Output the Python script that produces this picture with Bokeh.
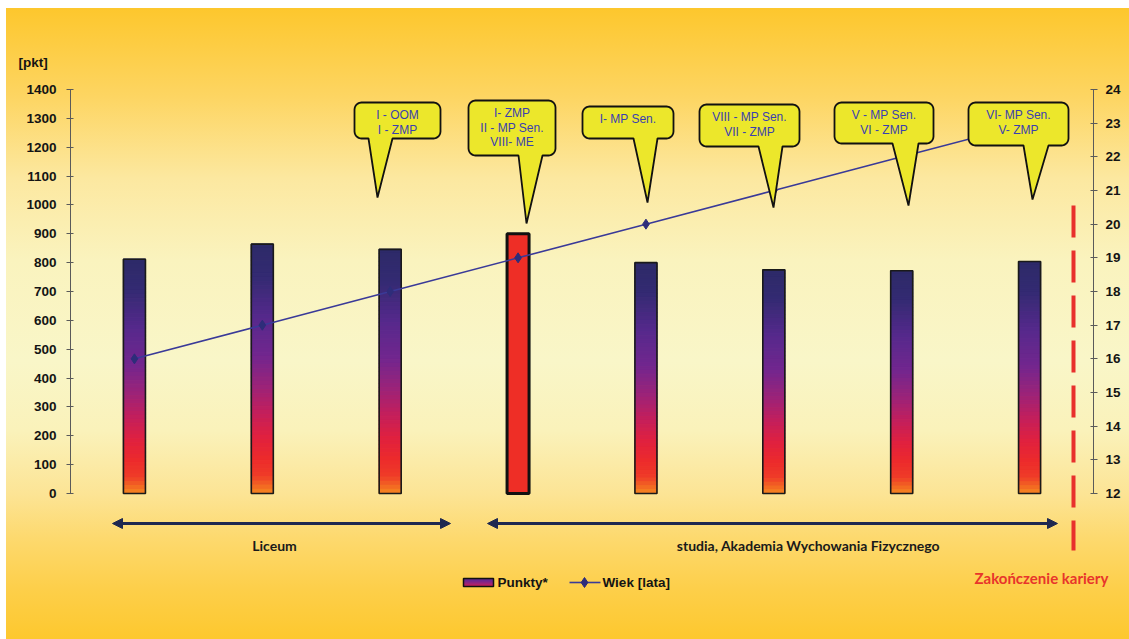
import numpy as np
from bokeh.plotting import figure
from bokeh.models import Range1d, LinearAxis, FixedTicker, Label, Arrow, NormalHead
from bokeh.embed import file_html
from bokeh.resources import INLINE

# ---- data -------------------------------------------------------------
seasons = list(range(8))                      # consecutive seasons
points = [812, 864, 846, 900, 800, 775, 772, 804]   # Punkty*
age = [16, 17, 18, 19, 20, 21, 22, 23]              # Wiek [lata]
best_season = 3
pkt_ticks = list(range(0, 1401, 100))
age_ticks = list(range(12, 25))

callout_season = [2, 3, 4, 5, 6, 7]
callout_lines = [
    ["I - OOM", "I - ZMP"],
    ["I- ZMP", "II - MP Sen.", "VIII- ME"],
    ["I- MP Sen."],
    ["VIII - MP Sen.", "VII - ZMP"],
    ["V - MP Sen.", "VI - ZMP"],
    ["VI- MP Sen.", "V- ZMP"],
]

# ---- page geometry (pixels) ------------------------------------------
# the plotting frame covers the whole canvas; both value axes are pinned
# to the outer edges of the season range
W, H = 1129, 639
AX_L, AX_R = 70, 1093              # pixel columns of the two value axes
ZERO_PY, TOP_PY = 493, 89          # pixel rows of 0 and 1400 pkt
PX_CAT = (AX_R - AX_L) / len(seasons)
PX_PKT = (ZERO_PY - TOP_PY) / 1400.0
PX_AGE = (ZERO_PY - TOP_PY) / 12.0


def at_x(px):
    return (px - AX_L) / PX_CAT


def at_y(py):
    return (ZERO_PY - py) / PX_PKT


age_lo = 12 - (H - ZERO_PY) / PX_AGE
age_hi = 12 + ZERO_PY / PX_AGE

bg = ("linear-gradient(to bottom, #FDC72D 0%, #FDD562 14%, #FCE8A0 27%, "
      "#FAF3BE 40%, #F9F6C8 56%, #FAF2BA 67%, #FCE495 77%, #FDD96E 84%, "
      "#FDCF4A 92%, #FDC82E 100%) 6px 8px / calc(100% - 6px) calc(100% - 8px) no-repeat, #ffffff")

p = figure(width=W, height=H, output_backend="svg", toolbar_location=None,
           x_axis_type=None, y_axis_type=None, title=None,
           x_range=Range1d(at_x(0), at_x(W)), y_range=Range1d(at_y(H), at_y(0)),
           min_border=0)
p.extra_y_ranges = {"age": Range1d(age_lo, age_hi)}
p.background_fill_color = None
p.border_fill_color = None
p.outline_line_color = None
p.grid.visible = False
p.styles = {"background": bg}

for side, rng, ticks, bounds, loc in (("left", "default", pkt_ticks, (0, 1400), 0),
                                      ("right", "age", age_ticks, (12, 24), len(seasons))):
    ax = LinearAxis(y_range_name=rng, ticker=FixedTicker(ticks=ticks), bounds=bounds,
                    fixed_location=loc)
    ax.axis_line_color = "#5a5a5a"
    ax.major_tick_line_color = "#5a5a5a"
    ax.minor_tick_line_color = None
    ax.major_tick_in = 3
    ax.major_tick_out = 4
    ax.major_label_standoff = 10 if side == "left" else 8
    ax.major_label_text_font = "Liberation Sans"
    ax.major_label_text_font_style = "bold"
    ax.major_label_text_font_size = "13.5px"
    ax.major_label_text_color = "#141414"
    p.add_layout(ax, side)

# ---- gradient bars ----------------------------------------------------
stops = [(0.0, "#2D2A68"), (0.13, "#332A72"), (0.3, "#56298C"), (0.45, "#72268E"),
         (0.57, "#9A2379"), (0.67, "#C01F5E"), (0.77, "#DF2040"), (0.86, "#EC2A2C"),
         (0.93, "#EF3B28"), (1.0, "#F5861F")]
stop_t = np.array([s[0] for s in stops])
stop_rgb = np.array([[int(c[i:i + 2], 16) for i in (1, 3, 5)] for _, c in stops], float)


def grad(t):
    return "#%02x%02x%02x" % tuple(int(round(np.interp(t, stop_t, stop_rgb[:, k]))) for k in range(3))


bar_w = 22 / PX_CAT
N = 60
for i, v in zip(seasons, points):
    if i == best_season:
        continue
    edges = [v * (1 - k / N) for k in range(N + 1)]
    cols = [grad((k + 0.5) / N) for k in range(N)]
    p.quad(left=[i + 0.5 - bar_w / 2] * N, right=[i + 0.5 + bar_w / 2] * N,
           top=edges[:-1], bottom=edges[1:],
           fill_color=cols, line_color=cols, line_width=1.2)

normal = [i for i in seasons if i != best_season]
p.vbar(x=[i + 0.5 for i in normal], top=[points[i] for i in normal], bottom=0,
       width=bar_w, fill_color=None, line_color="#1a1a1a", line_width=1.6)
p.vbar(x=[best_season + 0.5], top=[points[best_season]], bottom=0, width=bar_w,
       fill_color="#EE2E26", line_color="#111111", line_width=3)

# ---- age line ---------------------------------------------------------
xs = [i + 0.5 for i in seasons]
p.line(xs, age, y_range_name="age", line_color="#3A3A98", line_width=1.6)
p.scatter(xs, age, y_range_name="age", marker="diamond", size=10,
          fill_color="#2E2D7A", line_color="#2E2D7A")

# ---- callouts ---------------------------------------------------------
# box (left, top, right, bottom), tail base (x0, x1), tail tip (x, y) in page px
boxes = [(354, 102, 440, 138), (468, 100, 555, 155), (582, 106, 673, 138),
         (699, 104, 799, 146), (834, 102, 933, 143), (968, 102, 1068, 145)]
tails = [((368, 392), (377, 197)), ((518, 542), (526, 223)), ((633, 657), (647, 202)),
         ((758, 782), (773, 207)), ((892, 918), (908, 205)), ((1023, 1048), (1032, 199))]


def callout_path(box, tail, r=7):
    l, t, rr, b = box
    (b0, b1), (tx, ty) = tail
    pts = []

    def arc(cx, cy, a0, a1):
        for a in np.linspace(a0, a1, 6):
            pts.append((cx + r * np.cos(a), cy + r * np.sin(a)))

    arc(l + r, t + r, np.pi, 1.5 * np.pi)
    arc(rr - r, t + r, 1.5 * np.pi, 2 * np.pi)
    arc(rr - r, b - r, 0, 0.5 * np.pi)
    pts += [(b1, b), (tx, ty), (b0, b)]
    arc(l + r, b - r, 0.5 * np.pi, np.pi)
    return [at_x(x) for x, _ in pts], [at_y(y) for _, y in pts]


cx_all, cy_all = [], []
for box, tail in zip(boxes, tails):
    cx, cy = callout_path(box, tail)
    cx_all.append(cx)
    cy_all.append(cy)
p.patches(cx_all, cy_all, fill_color="#ECE72B", line_color="#111111", line_width=1.8)

for box, lines in zip(boxes, callout_lines):
    l, t, rr, b = box
    for k, txt in enumerate(lines):
        p.add_layout(Label(x=at_x((l + rr) / 2), y=at_y(t + 12.5 + 14.5 * k), text=txt,
                           text_align="center", text_baseline="middle",
                           text_font="Liberation Sans", text_font_size="12px",
                           text_color="#3A3FB0"))

# ---- period arrows ------------------------------------------------------
arrow_col = "#1E2850"
for x0, x1 in ((112, 450), (487, 1057)):
    p.add_layout(Arrow(x_start=at_x(x0), y_start=at_y(523), x_end=at_x(x1), y_end=at_y(523),
                       line_color=arrow_col, line_width=3,
                       start=NormalHead(size=10, fill_color=arrow_col, line_color=arrow_col),
                       end=NormalHead(size=10, fill_color=arrow_col, line_color=arrow_col)))

for txt, xc in (("Liceum", 274), ("studia, Akademia Wychowania Fizycznego", 808)):
    p.add_layout(Label(x=at_x(xc), y=at_y(545), text=txt, text_align="center",
                       text_baseline="middle", text_font="Lato", text_font_style="bold",
                       text_font_size="14px", text_color="#1a1a1a"))

# ---- end of career marker -----------------------------------------------
p.line([at_x(1073)] * 2, [at_y(205), at_y(550)], line_color="#E8302C", line_width=4,
       line_dash="32 13")
p.add_layout(Label(x=at_x(974), y=at_y(577), text="Zakończenie kariery", text_align="left",
                   text_baseline="middle", text_font="Lato", text_font_style="bold",
                   text_font_size="15px", text_color="#E8352B"))

p.add_layout(Label(x=at_x(18), y=at_y(62), text="[pkt]", text_align="left",
                   text_baseline="middle", text_font="Liberation Sans",
                   text_font_style="bold", text_font_size="13.5px", text_color="#141414"))

# ---- legend -------------------------------------------------------------
ns = 8
sw_top, sw_bot = at_y(578), at_y(586)
sw_edges = [sw_top + (sw_bot - sw_top) * k / ns for k in range(ns + 1)]
sw_cols = [grad(0.3 + 0.4 * (k + 0.5) / ns) for k in range(ns)]
p.quad(left=[at_x(463)] * ns, right=[at_x(493)] * ns, top=sw_edges[:-1], bottom=sw_edges[1:],
       fill_color=sw_cols, line_color=sw_cols, line_width=1)
p.quad(left=[at_x(463)], right=[at_x(493)], top=[sw_top], bottom=[sw_bot],
       fill_color=None, line_color="#111111", line_width=1.5)
p.add_layout(Label(x=at_x(497), y=at_y(582), text="Punkty*", text_align="left",
                   text_baseline="middle", text_font="Liberation Sans",
                   text_font_style="bold", text_font_size="13.5px", text_color="#141414"))
p.line([at_x(569), at_x(600)], [at_y(582)] * 2, line_color="#3A3A98", line_width=1.6)
p.scatter([at_x(584)], [at_y(582)], marker="diamond", size=10,
          fill_color="#2E2D7A", line_color="#2E2D7A")
p.add_layout(Label(x=at_x(602), y=at_y(582), text="Wiek [lata]", text_align="left",
                   text_baseline="middle", text_font="Liberation Sans",
                   text_font_style="bold", text_font_size="13.5px", text_color="#141414"))

open("out.html", "w").write(file_html(p, INLINE))
